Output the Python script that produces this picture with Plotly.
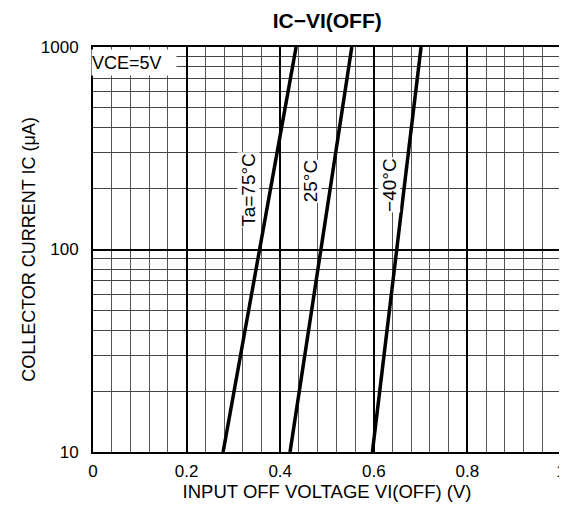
import plotly.graph_objects as go

# Data
temp_labels = ["Ta=75°C", "25°C", "−40°C"]
v_at_10uA = [0.278, 0.421, 0.597]
v_at_1000uA = [0.434, 0.553, 0.701]
ic_ends = [10, 1000]
x_tick_vals = [0, 0.2, 0.4, 0.6, 0.8, 1]
x_tick_text = ["0", "0.2", "0.4", "0.6", "0.8", "1"]
y_tick_vals = [10, 100, 1000]
y_tick_text = ["10", "100", "1000"]
y_minor_vals = [m * 10 ** d for d in (1, 2) for m in range(2, 10)]

FONT = "Liberation Sans, Arial, sans-serif"

fig = go.Figure()
for lab, v0, v1 in zip(temp_labels, v_at_10uA, v_at_1000uA):
    fig.add_trace(go.Scatter(x=[v0, v1], y=ic_ends, mode="lines",
                             line=dict(color="black", width=3.5),
                             showlegend=False, hoverinfo="skip"))

# rotated curve labels
label_pos = [(0.333, 2.294), (0.465, 2.335), (0.632, 2.318)]
for lab, (lx, ly) in zip(temp_labels, label_pos):
    fig.add_annotation(x=lx, y=ly, xref="x", yref="y", text=lab, textangle=-90,
                       showarrow=False, bgcolor="white", borderpad=0,
                       font=dict(family=FONT, size=19, color="black"))

fig.add_annotation(x=0, y=1, xref="paper", yref="paper", xanchor="left", yanchor="top",
                   xshift=-2, yshift=-2, text="VCE=5V", showarrow=False,
                   bgcolor="white", width=84, height=25, borderpad=0, align="left",
                   font=dict(family=FONT, size=18, color="black"))

fig.update_xaxes(range=[0, 1], tickvals=x_tick_vals, ticktext=x_tick_text,
                 showgrid=True, gridcolor="black", gridwidth=1.5,
                 showline=True, linecolor="black", linewidth=2, mirror=True,
                 ticks="", zeroline=False, automargin=False, ticklabelstandoff=3,
                 minor=dict(dtick=0.04, showgrid=True, gridcolor="#555555", gridwidth=1, ticks=""),
                 tickfont=dict(family=FONT, size=17, color="black"),
                 title=dict(text="INPUT OFF VOLTAGE VI(OFF) (V)", standoff=4,
                            font=dict(family=FONT, size=18.5, color="black")))
fig.update_yaxes(type="log", range=[1, 3], tickvals=y_tick_vals, ticktext=y_tick_text,
                 showgrid=True, gridcolor="black", gridwidth=1.5,
                 showline=True, linecolor="black", linewidth=2, mirror=True,
                 ticks="", zeroline=False, automargin=False, ticklabelstandoff=9,
                 minor=dict(tickvals=y_minor_vals, showgrid=True, gridcolor="#444444", gridwidth=1, ticks=""),
                 tickfont=dict(family=FONT, size=17, color="black"),
                 title=dict(text="COLLECTOR CURRENT IC (μA)", standoff=0,
                            font=dict(family=FONT, size=18, color="black")))

# The page body adds an 8px margin, so the figure is sized to fit the 567x515 window.
fig.update_layout(
    width=559, height=507,
    margin=dict(l=85, r=6, t=39, b=63),
    paper_bgcolor="white", plot_bgcolor="white",
    title=dict(text="<b>IC−VI(OFF)</b>", x=0.571, xanchor="center", y=0.976, yanchor="middle",
               font=dict(family=FONT, size=21, color="black")),
)

fig.write_html("out.html")
